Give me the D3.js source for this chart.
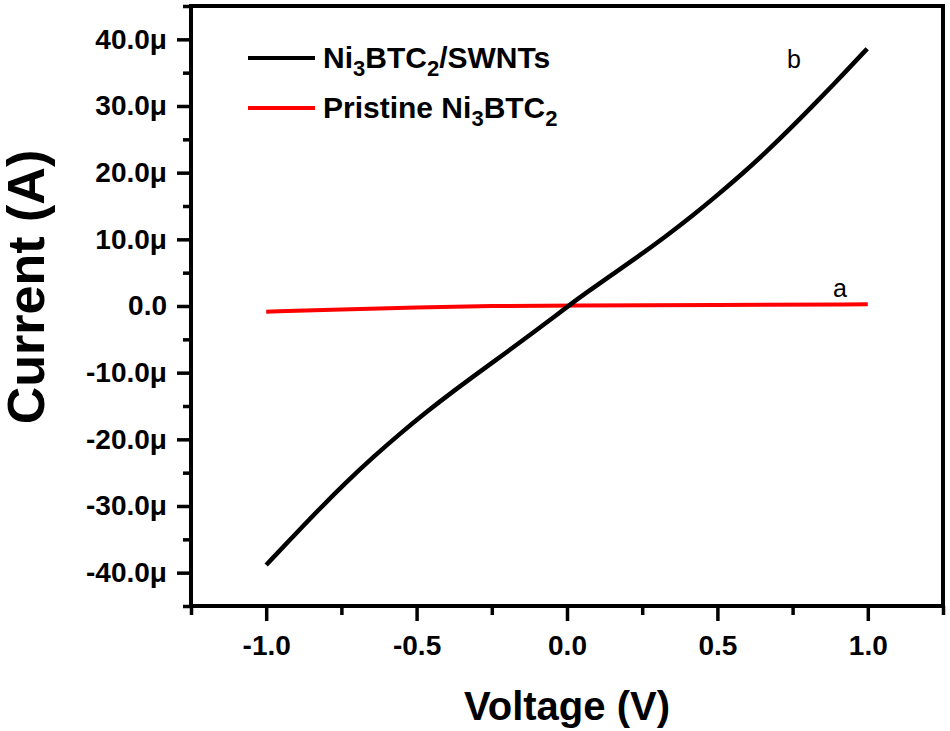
<!DOCTYPE html>
<html>
<head>
<meta charset="utf-8">
<script src="https://cdn.jsdelivr.net/npm/d3@7"></script>
<style>
  body { margin: 0; background: #fff; }
  text { font-family: "Liberation Sans", Arial, sans-serif; }
</style>
</head>
<body>
<div id="chart"></div>
<script>
// Ni3BTC2/SWNTs  (curve b), current in µA
var swntVoltage = [-1.0, -0.909, -0.821, -0.732, -0.643, -0.554, -0.466, -0.377, -0.288, -0.2, -0.111, -0.03, 0.01,
                   0.061, 0.15, 0.239, 0.327, 0.416, 0.494, 0.582, 0.66, 0.749, 0.838, 0.915, 0.998];
var swntCurrent = [-38.85, -34.5, -30.35, -26.35, -22.6, -19.1, -15.85, -12.75, -9.8, -6.9, -3.95, -1.2, 0.2,
                   1.9, 4.7, 7.5, 10.4, 13.5, 16.4, 19.8, 23.0, 26.9, 31.0, 34.6, 38.6];

// Pristine Ni3BTC2  (curve a)
var pristineVoltage = [-1.0, -0.75, -0.5, -0.25, 0.0, 0.5, 1.0];
var pristineCurrent = [-0.85, -0.5, -0.2, 0.0, 0.1, 0.15, 0.25];

var xTicks = [-1.0, -0.5, 0.0, 0.5, 1.0];
var xMinorTicks = [-1.25, -0.75, -0.25, 0.25, 0.75, 1.25];
var yTicks = [-40, -30, -20, -10, 0, 10, 20, 30, 40];
var yMinorTicks = [-45, -35, -25, -15, -5, 5, 15, 25, 35, 45];

var width = 950, height = 731;
var plotLeft = 191, plotRight = 943, plotTop = 6, plotBottom = 606;

var svg = d3.select("#chart").append("svg")
    .attr("width", width)
    .attr("height", height);

var x = d3.scaleLinear().domain([-1.25, 1.25]).range([plotLeft, plotRight]);
var y = d3.scaleLinear().domain([-45, 45]).range([plotBottom, plotTop]);

var fmtY = function(d) { return d === 0 ? "0.0" : d3.format(".1f")(d).replace("\u2212", "-") + "\u03bc"; };
var fmtX = function(d) { return d3.format(".1f")(d).replace("\u2212", "-"); };

// minor ticks
svg.append("g")
    .attr("transform", "translate(0," + plotBottom + ")")
    .call(d3.axisBottom(x).tickValues(xMinorTicks).tickSize(9).tickSizeOuter(0).tickFormat(""))
    .call(function(g) { g.select(".domain").remove(); });
svg.append("g")
    .attr("transform", "translate(" + plotLeft + ",0)")
    .call(d3.axisLeft(y).tickValues(yMinorTicks).tickSize(8).tickSizeOuter(0).tickFormat(""))
    .call(function(g) { g.select(".domain").remove(); });

// major ticks
var xAxis = svg.append("g")
    .attr("transform", "translate(0," + plotBottom + ")")
    .call(d3.axisBottom(x).tickValues(xTicks).tickSize(15).tickSizeOuter(0).tickPadding(14).tickFormat(fmtX));
var yAxis = svg.append("g")
    .attr("transform", "translate(" + plotLeft + ",0)")
    .call(d3.axisLeft(y).tickValues(yTicks).tickSize(14).tickSizeOuter(0).tickPadding(10).tickFormat(fmtY));

[xAxis, yAxis].forEach(function(g) {
  g.select(".domain").remove();
  g.selectAll(".tick text")
    .attr("fill", "#000")
    .style("font-size", "28px")
    .style("font-weight", "bold");
});
svg.selectAll(".tick line").attr("stroke", "#000").attr("stroke-width", 3.5);

// frame
svg.append("rect")
    .attr("x", plotLeft).attr("y", plotTop)
    .attr("width", plotRight - plotLeft).attr("height", plotBottom - plotTop)
    .attr("fill", "none")
    .attr("stroke", "#000")
    .attr("stroke-width", 4);

// curves
var line = d3.line()
    .x(function(d) { return x(d[0]); })
    .y(function(d) { return y(d[1]); })
    .curve(d3.curveBasis);

svg.append("path")
    .datum(d3.zip(pristineVoltage, pristineCurrent))
    .attr("fill", "none")
    .attr("stroke", "#ff0000")
    .attr("stroke-width", 4)
    .attr("d", line);

svg.append("path")
    .datum(d3.zip(swntVoltage, swntCurrent))
    .attr("fill", "none")
    .attr("stroke", "#000")
    .attr("stroke-width", 4.5)
    .attr("d", line);

// curve labels
svg.append("text").attr("x", 787).attr("y", 68)
    .style("font-size", "25px").text("b");
svg.append("text").attr("x", 833).attr("y", 297)
    .style("font-size", "25px").text("a");

// legend
var legend = [
  { color: "#000", parts: [["Ni", 0], ["3", 1], ["BTC", 0], ["2", 1], ["/SWNTs", 0]] },
  { color: "#ff0000", parts: [["Pristine Ni", 0], ["3", 1], ["BTC", 0], ["2", 1]] }
];
legend.forEach(function(item, i) {
  var ly = 58 + i * 50;
  svg.append("line")
      .attr("x1", 248).attr("x2", 315)
      .attr("y1", ly).attr("y2", ly)
      .attr("stroke", item.color)
      .attr("stroke-width", 4);
  var t = svg.append("text")
      .attr("x", 323).attr("y", ly + 10)
      .style("font-size", "30px")
      .style("font-weight", "bold");
  item.parts.forEach(function(p) {
    t.append("tspan")
      .style("font-size", p[1] ? "22px" : "30px")
      .attr("baseline-shift", p[1] ? "-8px" : null)
      .text(p[0]);
  });
});

// axis titles
svg.append("text")
    .attr("x", 567).attr("y", 720)
    .attr("text-anchor", "middle")
    .style("font-size", "40px")
    .style("font-weight", "bold")
    .text("Voltage (V)");

svg.append("text")
    .attr("transform", "translate(44,287) rotate(-90)")
    .attr("text-anchor", "middle")
    .style("font-size", "52px")
    .style("font-weight", "bold")
    .text("Current (A)");
</script>
</body>
</html>
